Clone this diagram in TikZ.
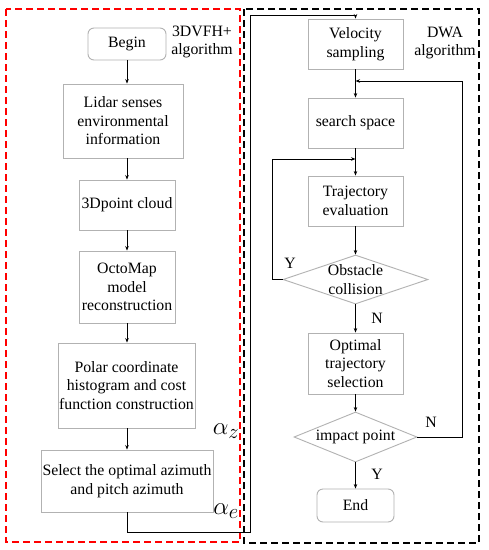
\documentclass[tikz,border=0pt]{standalone}
\usepackage{fontspec}
\setmainfont{Liberation Serif}
\usetikzlibrary{shapes.geometric,arrows.meta}
\begin{document}
\begin{tikzpicture}[x=1pt,y=-1pt,
  every node/.style={font=\fontsize{15.8}{18.5}\selectfont, align=center, inner sep=0pt},
  proc/.style={draw=black!30, line width=0.9pt, rectangle},
  term/.style={draw=black!30, line width=0.9pt, rectangle, rounded corners=6pt},
  decision/.style={draw=black!30, line width=0.9pt, diamond},
  conn/.style={black, line width=0.8pt, -{Stealth[length=4.5pt,width=3.5pt]}},
  frame/.style={line width=1.6pt, dash pattern=on 7pt off 4pt},
  greek/.style={font=\fontsize{30}{32}\selectfont}
]
\useasboundingbox (0,0) rectangle (489,550);
\fill[white] (0,0) rectangle (489,550);

% frames
\draw[frame, red] (6,9) rectangle (240,542);
\draw[frame, black] (244,9) rectangle (479,543);

% left column
\node[term, minimum width=78pt, minimum height=32pt] (begin) at (127,44) {Begin};
\node[proc, minimum width=120pt, minimum height=74pt] (lidar) at (123,121) {Lidar senses\\environmental\\information};
\node[proc, minimum width=96pt, minimum height=50pt] (cloud) at (127,205) {3Dpoint cloud};
\node[proc, minimum width=96pt, minimum height=72pt] (octo) at (127,287) {OctoMap\\model\\reconstruction};
\node[proc, minimum width=137pt, minimum height=85pt] (polar) at (126.5,385.5) {Polar coordinate\\histogram and cost\\function construction};
\node[proc, minimum width=172pt, minimum height=62pt] (select) at (127,481) {Select the optimal azimuth\\and pitch azimuth};

\node (lab1) at (202,42) {3DVFH+\\algorithm};
\node[greek] (az) at (226,431) {$\alpha_z$};
\node[greek] (ae) at (226,511) {$\alpha_e$};

% right column
\node[proc, minimum width=95pt, minimum height=50pt] (vel) at (355.5,44) {Velocity\\sampling};
\node[proc, minimum width=95pt, minimum height=50pt] (search) at (355.5,123) {search space};
\node[proc, minimum width=95pt, minimum height=50pt] (traj) at (355.5,201) {Trajectory\\evaluation};
\node[decision, minimum width=145pt, minimum height=49pt, label={[align=center]center:Obstacle\\collision}] (obst) at (355.5,279.5) {};
\node[proc, minimum width=95pt, minimum height=61pt] (opt) at (355.5,363.5) {Optimal\\trajectory\\selection};
\node[decision, minimum width=123pt, minimum height=50pt, label=center:impact point] (impact) at (355.5,437) {};
\node[term, minimum width=77pt, minimum height=33pt] (end) at (355.5,505.5) {End};

\node (lab2) at (445,43) {DWA\\algorithm};
\node (y1) at (290,263) {Y};
\node (n1) at (377,318) {N};
\node (n2) at (431,422) {N};
\node (y2) at (377,474) {Y};

% coordinates
\coordinate (c1) at (127,532);
\coordinate (c2) at (250,532);
\coordinate (c3) at (250,15);
\coordinate (c4) at (355.5,15);
\coordinate (j1) at (355.5,81);
\coordinate (j2) at (355.5,159);
\coordinate (l1) at (272,279.5);
\coordinate (l2) at (272,159);
\coordinate (r1) at (462,437);
\coordinate (r2) at (462,81);

% connectors left
\draw[conn] (begin.south) -- (begin.south |- lidar.north);
\draw[conn] (lidar.south -| cloud.north) -- (cloud.north);
\draw[conn] (cloud.south) -- (octo.north);
\draw[conn] (octo.south) -- (octo.south |- polar.north);
\draw[conn] (polar.south -| select.north) -- (select.north);
\draw[conn] (select.south) -- (c1) -- (c2) -- (c3) -- (c4) -- (vel.north);

% connectors right
\draw[conn] (vel.south) -- (search.north);
\draw[conn] (search.south) -- (traj.north);
\draw[conn] (traj.south) -- (obst.north);
\draw[conn] (obst.west) -- (l1) -- (l2) -- (j2);
\draw[conn] (obst.south) -- (opt.north);
\draw[conn] (opt.south) -- (impact.north);
\draw[conn] (impact.east) -- (r1) -- (r2) -- (j1);
\draw[conn] (impact.south) -- (end.north);
\end{tikzpicture}
\end{document}
